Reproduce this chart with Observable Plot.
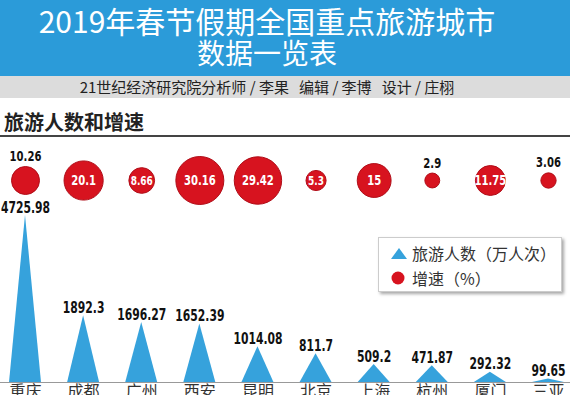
<!DOCTYPE html>
<html><head><meta charset="utf-8">
<script src="https://cdn.jsdelivr.net/npm/d3@7"></script>
<script src="https://cdn.jsdelivr.net/npm/@observablehq/plot@0.6"></script>
<style>
body{margin:0;width:570px;height:395px;overflow:hidden;background:#fff;font-family:"Noto Sans CJK SC","Noto Sans",sans-serif;position:relative}
#head{height:76px;background:#2b9bd9;color:#fff;text-align:center;padding-right:36px;box-sizing:border-box}
#head .l1{font-size:30px;line-height:32px;padding-top:4px}
#head .l2{font-size:28px;line-height:32px}
#sub{height:22px;background:#dcdcdc;color:#222;text-align:center;padding-right:36px;box-sizing:border-box;font-size:15px;line-height:22px;white-space:pre}
#sec{height:39px;border-bottom:2px solid #444;box-sizing:border-box;font-size:20px;font-weight:bold;color:#222;padding-left:4px;line-height:30px;padding-top:9px}
#chart{position:absolute;left:0;top:140px}
#legend{position:absolute;left:378px;top:237px;width:184px;height:55px;background:#fff;border:1px solid #ccc;box-shadow:2px 2px 3px rgba(0,0,0,0.35);box-sizing:border-box;font-size:16px;color:#333}
#legend .row{position:absolute;left:10px;display:flex;align-items:center;white-space:nowrap}
</style></head>
<body>
<div id="head"><div class="l1">2019年春节假期全国重点旅游城市</div><div class="l2">数据一览表</div></div>
<div id="sub">21世纪经济研究院分析师 / 李果   编辑 / 李博   设计 / 庄栩</div>
<div id="sec">旅游人数和增速</div>
<div id="chart"></div>
<div id="legend">
  <div class="row" style="top:3px"><svg width="20" height="16"><polygon points="2,14 10,3 18,14" fill="#36a2dc"/></svg><span style="margin-left:3px">旅游人数（万人次）</span></div>
  <div class="row" style="top:28px"><svg width="20" height="16"><circle cx="9" cy="8" r="6.5" fill="#d7131f"/></svg><span style="margin-left:3px">增速（%）</span></div>
</div>
<script>
const cities = ["重庆","成都","广州","西安","昆明","北京","上海","杭州","厦门","三亚"];
const visitors = [4725.98, 1892.3, 1696.27, 1652.39, 1014.08, 811.7, 509.2, 471.87, 292.32, 99.65];
const growth = [10.26, 20.1, 8.66, 30.16, 29.42, 5.3, 15, 2.9, 11.75, 3.06];
const outsideLabels = ["重庆","杭州","三亚"];

const rows = cities.map((c, i) => ({city: c, i, visitors: visitors[i], growth: growth[i]}));
const HW = 0.275;
const tri = rows.flatMap(d => [
  {city: d.city, x: d.i - HW, y: 0},
  {city: d.city, x: d.i, y: d.visitors},
  {city: d.city, x: d.i + HW, y: 0}
]);
const rMax = 24;
const rScale = d3.scaleSqrt().domain([0, d3.max(growth)]).range([0, rMax]);
const numFont = '"DejaVu Sans",sans-serif';
const CY = 40;

const outside = rows.filter(d => outsideLabels.includes(d.city));
const inside = rows.filter(d => !outsideLabels.includes(d.city));

const plot = Plot.plot({
  width: 570, height: 255,
  marginTop: 0, marginBottom: 0, marginLeft: 0, marginRight: 0,
  x: {type: "linear", domain: [0, cities.length - 1], range: [25, 548], axis: null},
  y: {domain: [0, d3.max(visitors)], range: [242, 75], axis: null},
  r: {type: "sqrt", domain: [0, d3.max(growth)], range: [0, rMax]},
  marks: [
    Plot.ruleY([0], {stroke: "#999", strokeWidth: 1}),
    Plot.areaY(tri, {x: "x", y: "y", z: "city", fill: "#36a2dc", curve: "linear"}),
    Plot.text(rows, {x: "i", y: "visitors", text: d => String(d.visitors), dy: -3, lineAnchor: "bottom",
      fontFamily: numFont, fontWeight: "bold", fontSize: 15, fill: "#111"}),
    Plot.text(rows, {x: "i", y: 0, text: "city", dy: 3, lineAnchor: "top", fontSize: 16, fill: "#333",
      fontFamily: '"Noto Sans CJK SC",sans-serif'}),
    Plot.dot(rows, {x: "i", frameAnchor: "top", dy: CY, r: "growth", fill: "#d7131f", stroke: "#b00d18", strokeWidth: 1}),
    Plot.text(inside, {x: "i", frameAnchor: "top", dy: CY, text: d => String(d.growth), fill: "#fff",
      fontFamily: numFont, fontWeight: "bold", fontSize: d => d.growth < 10 ? 12.5 : 14, lineAnchor: "middle"}),
    ...outside.map(d => Plot.text([d], {x: "i", frameAnchor: "top", dy: CY - rScale(d.growth) - 10, text: e => String(e.growth),
      fill: "#111", fontFamily: numFont, fontWeight: "bold", fontSize: 14, lineAnchor: "middle"}))
  ]
});
// condense the numeric labels horizontally (no narrow font installed)
plot.querySelectorAll("text").forEach(t => {
  if (/^[\d.]+$/.test(t.textContent.trim())) {
    const tr = t.getAttribute("transform") || "";
    t.setAttribute("transform", tr + " scale(0.72,1)");
  }
});
document.getElementById("chart").appendChild(plot);
</script>
</body></html>
